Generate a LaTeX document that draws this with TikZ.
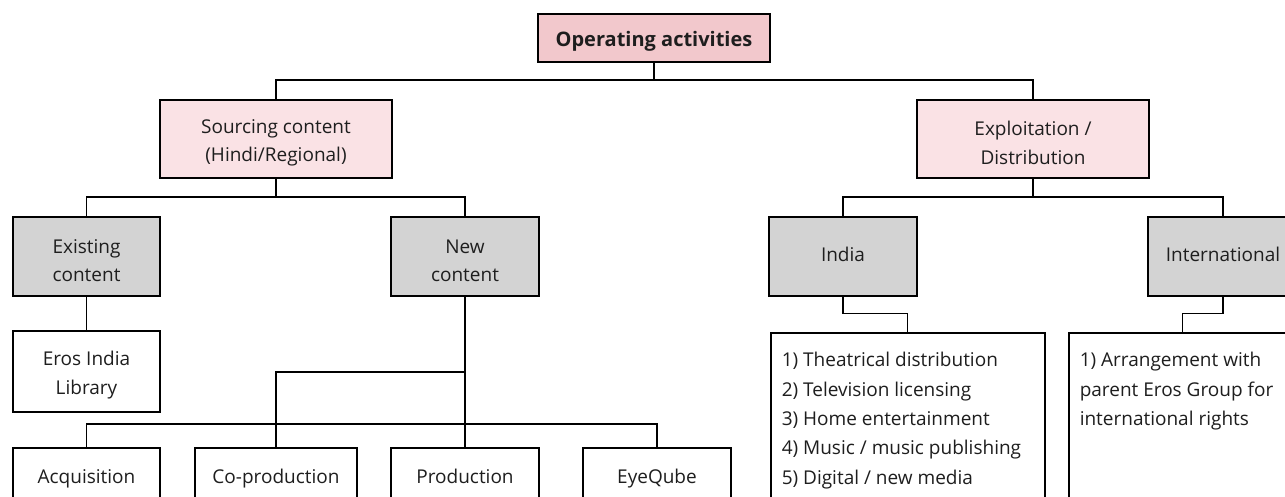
\documentclass[tikz,border=0pt]{standalone}
\usepackage{fontspec}
\setmainfont{Open Sans}
\definecolor{oppink}{HTML}{F2C8CC}
\definecolor{lpink}{HTML}{FAE2E5}
\definecolor{boxgray}{HTML}{D3D3D3}
\definecolor{txt}{HTML}{1E1E1E}
\newcommand\listline[1]{\mbox{#1}}
\newcommand\tallstrut{\rule{0pt}{22pt}}
\tikzset{
 base/.style={draw=black, line width=1.5pt, inner sep=0pt, text=txt, align=center, font=\fontsize{19}{28.5}\selectfont},
 oneline/.style={text height=14pt, text depth=4.5pt},
 topbox/.style={base, fill=oppink, text height=22pt, text depth=4.5pt, minimum width=232pt, minimum height=48pt, font=\fontsize{20}{24}\selectfont\bfseries},
 catbox/.style={base, fill=lpink, minimum width=232pt, minimum height=78pt},
 graybox/.style={base, fill=boxgray, minimum height=79pt},
 whitebox/.style={base, fill=white},
 botbox/.style={base, fill=white, text height=14pt, text depth=2pt, anchor=north, minimum height=60pt},
 listbox/.style={base, fill=white, anchor=north west, inner xsep=11pt, inner ysep=0pt, align=left, font=\fontsize{19}{29.4}\selectfont},
 conn/.style={line width=1.2pt, draw=black}
}
\begin{document}
\begin{tikzpicture}[x=1pt,y=-1pt]
\useasboundingbox (0,0) rectangle (1285,497);
\clip (0,0) rectangle (1285,497);
\fill[white] (0,0) rectangle (1285,497);
% nodes
\node[topbox] (op) at (654,38) {Operating activities};
\node[catbox] (src) at (276,139) {\tallstrut Sourcing content\\(Hindi/Regional)};
\node[catbox] (exp) at (1033,139) {\tallstrut Exploitation /\\Distribution};
\node[graybox, minimum width=147pt] (exist) at (86.5,256.5) {\tallstrut Existing\\content};
\node[graybox, minimum width=148pt] (new) at (465,256.5) {\tallstrut New\\content};
\node[graybox, oneline, minimum width=148pt] (india) at (843,256.5) {India};
\node[graybox, oneline, minimum width=150pt] (intl) at (1223,256.5) {International};
\node[whitebox, minimum width=147pt, minimum height=81pt] (eros) at (86.5,371.5) {\tallstrut Eros India\\Library};
\node[botbox, minimum width=147pt] (acq) at (86.5,447) {Acquisition};
\node[botbox, minimum width=162pt] (coprod) at (276,447) {Co-production};
\node[botbox, minimum width=148pt] (prod) at (465,447) {Production};
\node[botbox, minimum width=148pt] (eye) at (657,447) {EyeQube};
\node[listbox] (ilist) at (770,332) {\parbox[t][200pt][t]{252pt}{\rule{0pt}{34pt}\listline{1) Theatrical distribution}\\\listline{2) Television licensing}\\\listline{3) Home entertainment}\\\listline{4) Music / music publishing}\\\listline{5) Digital / new media}}};
\node[listbox] (xlist) at (1068,332) {\parbox[t][200pt][t]{206pt}{\rule{0pt}{34pt}\listline{1) Arrangement with}\\\listline{parent Eros Group for}\\\listline{international rights}}};
% connectors
\coordinate (j0) at (654,80);
\draw[conn] (op.south) -- (j0);
\draw[conn] (src.north) |- (j0) -| (exp.north);
\coordinate (j1) at (276,197);
\draw[conn] (src.south) -- (j1);
\draw[conn] (exist.north) |- (j1) -| (new.north);
\coordinate (j2) at (1033,197);
\draw[conn] (exp.south) -- (j2);
\draw[conn] (india.north) |- (j2) -| (intl.north);
\draw[conn] (exist.south) -- (eros.north);
\draw[conn] (new.south) -- (prod.north);
\coordinate (j3) at (465,372);
\draw[conn] (j3) -| (coprod.north);
\coordinate (j4) at (465,424);
\draw[conn] (acq.north) |- (j4) -| (eye.north);
\draw[conn] (india.south) -- ++(0,17) -| (ilist.north);
\draw[conn] (intl.south) -- ++(0,17) -| (xlist.north);
\end{tikzpicture}
\end{document}
